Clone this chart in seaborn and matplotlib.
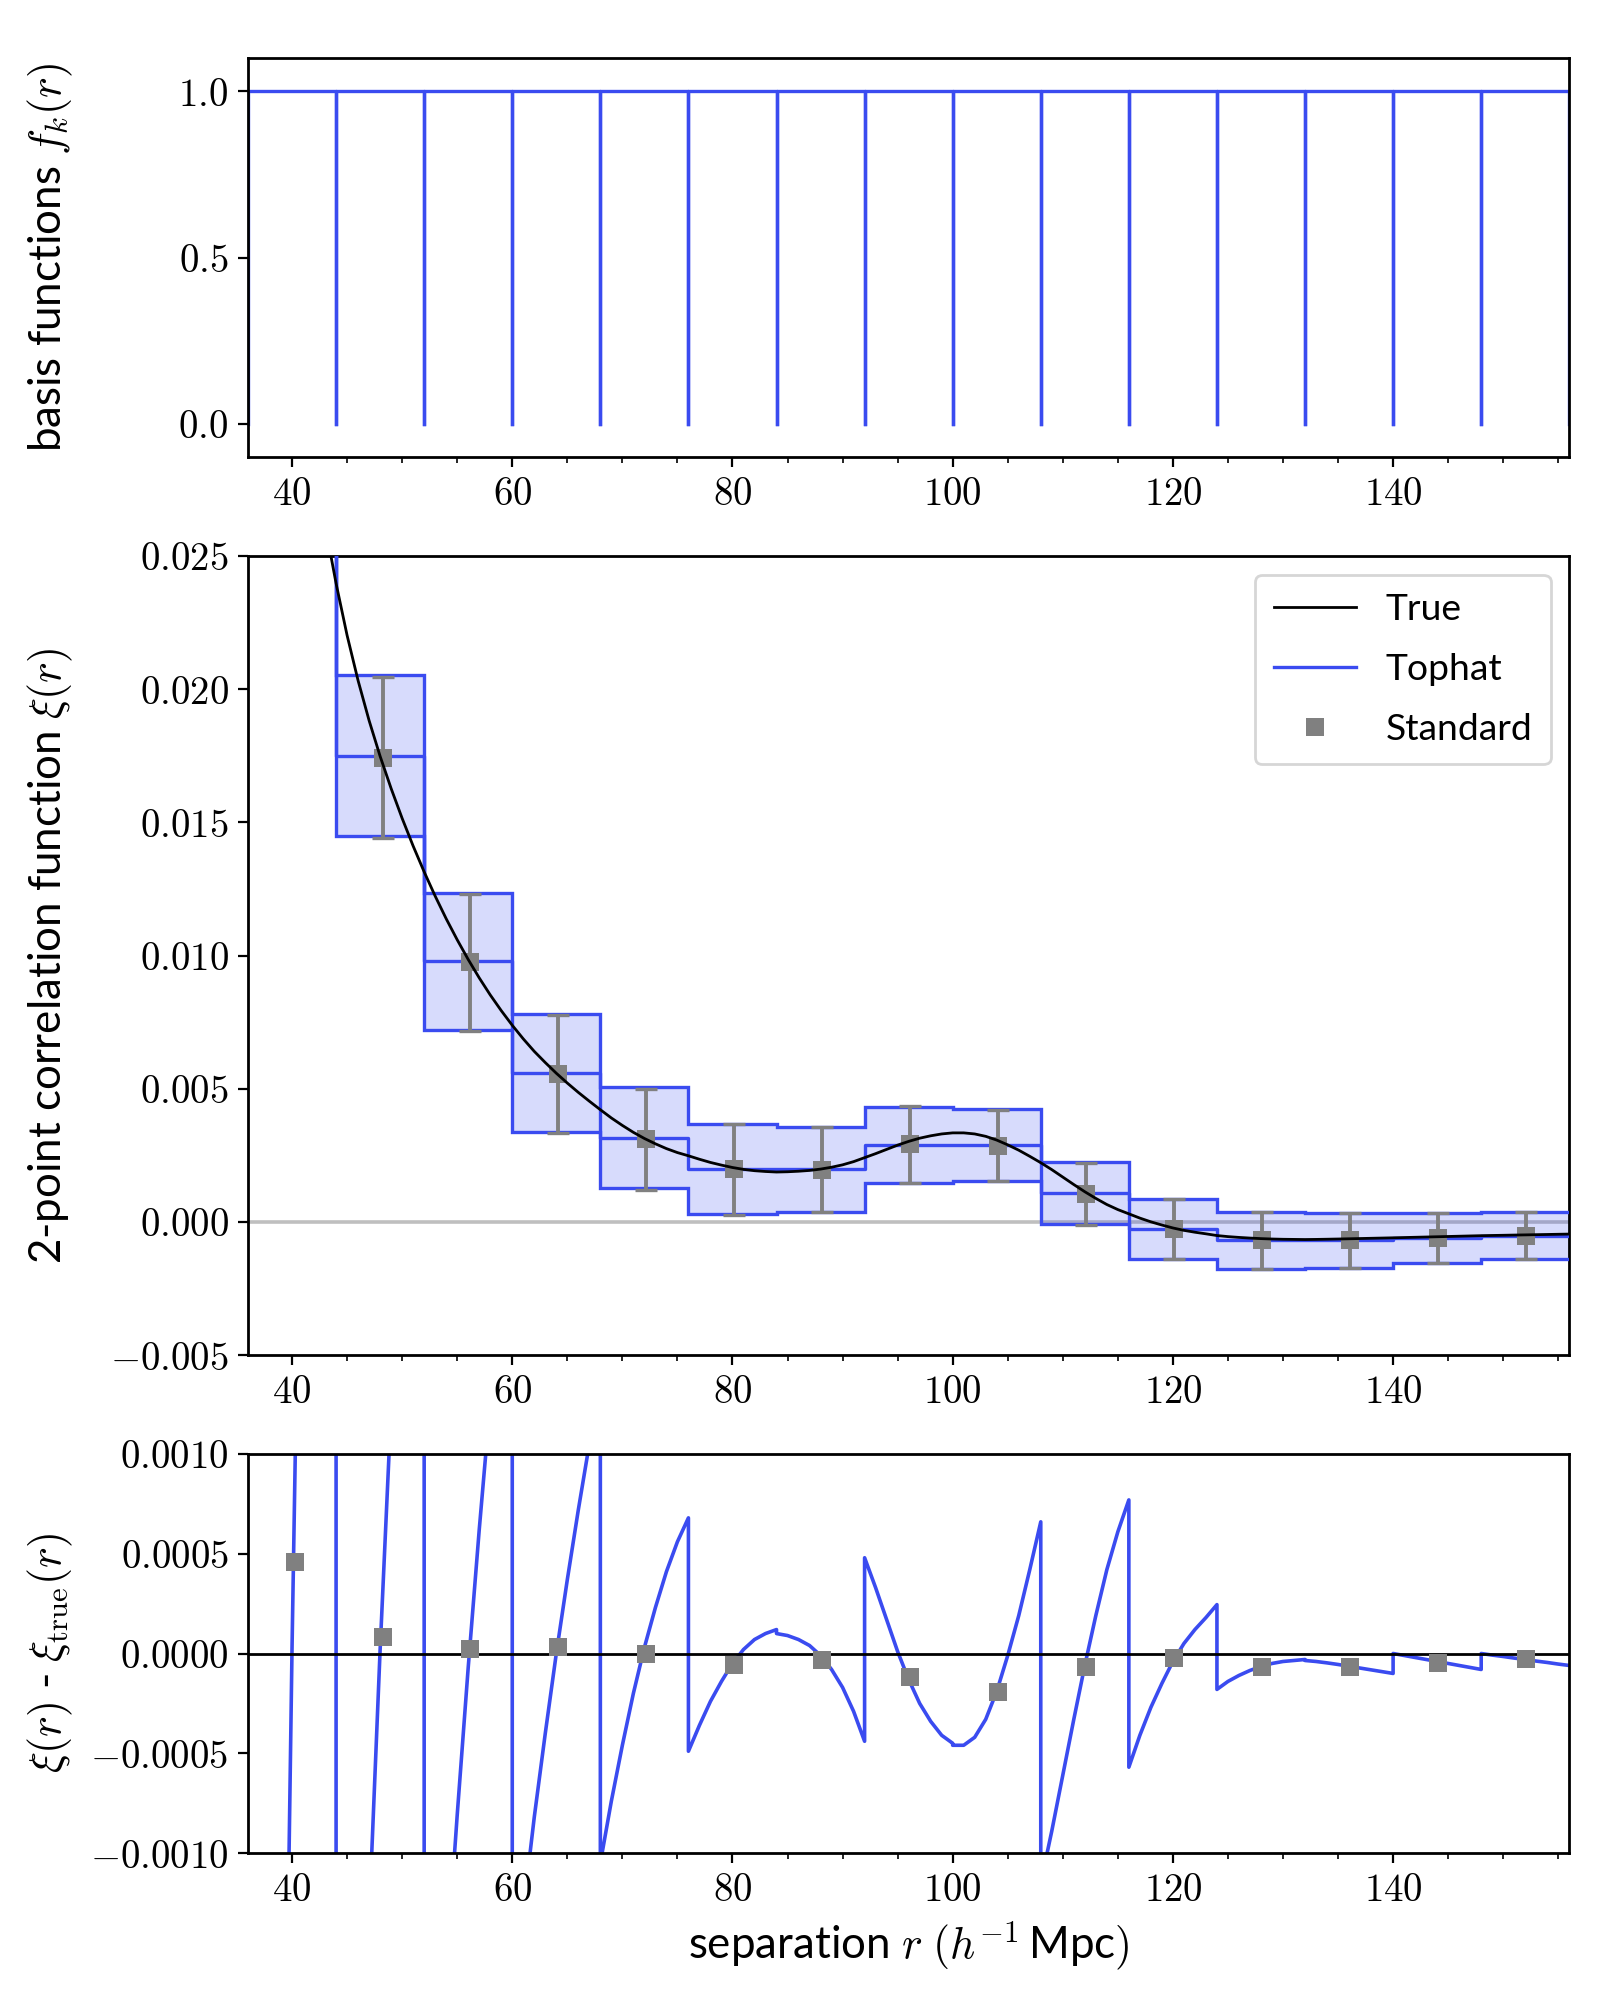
import numpy as np
import matplotlib
matplotlib.use("Agg")
import matplotlib.pyplot as plt
from matplotlib.ticker import FormatStrFormatter, MultipleLocator
import seaborn as sns

#% data
# tophat bin edges, h^-1 Mpc
bin_edges = [36, 44, 52, 60, 68, 76, 84, 92, 100, 108, 116, 124, 132, 140, 148, 156]

# tophat estimate per bin and 1-sigma error
tophat_xi = [0.0349, 0.0175, 0.00978, 0.00558, 0.00316, 0.00199, 0.00197, 0.00289,
             0.00288, 0.00107, -0.00027, -0.000695, -0.0007, -0.0006, -0.00052]
tophat_err = [0.0035, 0.00303, 0.00257, 0.00222, 0.00189, 0.0017, 0.0016, 0.00144,
              0.00134, 0.00117, 0.00112, 0.00107, 0.00102, 0.00095, 0.00089]

# standard estimator: positions, values, residual to the true curve
std_r = [40.27, 48.22, 56.19, 64.17, 72.15, 80.13, 88.12, 96.11,
         104.10, 112.10, 120.09, 128.08, 136.08, 144.07, 152.07]
std_xi = [0.0344, 0.01743, 0.00974, 0.00555, 0.0031, 0.00197, 0.00196, 0.00291,
          0.00286, 0.00104, -0.00026, -0.0007, -0.0007, -0.00061, -0.00052]
std_resid = [0.00046, 0.000085, 0.000023, 0.000033, 0.0, -0.000057, -0.000032, -0.000117,
             -0.000192, -0.00007, -0.000022, -0.000067, -0.000067, -0.000047, -0.00003]

# true correlation function, sampled every 1 h^-1 Mpc from 36 to 156
r_true = list(range(36, 157))
xi_true = [
    0.05347, 0.04787, 0.04297, 0.03867, 0.03487, 0.03157, 0.02867, 0.02617,   # 36-43
    0.02397, 0.02202, 0.02032, 0.01882, 0.01748, 0.01627, 0.01515, 0.01411,   # 44-51
    0.01314, 0.01223, 0.01138, 0.01059, 0.00985, 0.00916, 0.00852, 0.00793,   # 52-59
    0.00738, 0.00687, 0.00640, 0.00598, 0.00558, 0.00521, 0.00486, 0.00453,   # 60-67
    0.00421, 0.00390, 0.00362, 0.00336, 0.00313, 0.00293, 0.00275, 0.00260,   # 68-75
    0.00248, 0.00235, 0.00223, 0.00213, 0.00204, 0.00197, 0.00192, 0.00189,   # 76-83
    0.00187, 0.00188, 0.00190, 0.00193, 0.00198, 0.00205, 0.00214, 0.00226,   # 84-91
    0.00241, 0.00256, 0.00272, 0.00288, 0.00302, 0.00314, 0.00323, 0.00330,   # 92-99
    0.00334, 0.00334, 0.00330, 0.00321, 0.00307, 0.00289, 0.00269, 0.00246,   # 100-107
    0.00222, 0.00196, 0.00168, 0.00140, 0.00113, 0.00088, 0.00065, 0.00046,   # 108-115
    0.00030, 0.00014, 0.00000, -0.00012, -0.00023, -0.00032, -0.00039, -0.00045,  # 116-123
    -0.000515, -0.000555, -0.000585, -0.00061, -0.00063, -0.000645, -0.000655, -0.00066,  # 124-131
    -0.000665, -0.00066, -0.000653, -0.000645, -0.000636, -0.000627, -0.000618, -0.000609,  # 132-139
    -0.0006, -0.00059, -0.00058, -0.00057, -0.00056, -0.00055, -0.00054, -0.00053,  # 140-147
    -0.00052, -0.000512, -0.000505, -0.000497, -0.00049, -0.000482, -0.000475, -0.000467,  # 148-155
    -0.00046,  # 156
]

blue = "#3a4bf0"
grey = "#808080"
LABEL_FS = 15.8

sns.set_theme(style="ticks", rc={
    "axes.edgecolor": "black", "axes.linewidth": 1.0,
    "xtick.color": "black", "ytick.color": "black",
    "text.color": "black", "axes.labelcolor": "black",
    "xtick.major.size": 3.5, "ytick.major.size": 3.5, "xtick.minor.size": 2,
    "xtick.major.width": 0.8, "ytick.major.width": 0.8, "xtick.minor.width": 0.6,
    "font.size": 14, "axes.labelsize": LABEL_FS, "xtick.labelsize": 14,
    "ytick.labelsize": 14, "legend.fontsize": 13.4,
    "lines.solid_capstyle": "projecting",
})
plt.rcParams["font.family"] = ["Lato", "DejaVu Sans"]
plt.rcParams["mathtext.fontset"] = "cm"

edges = np.array(bin_edges, dtype=float)
T = np.array(tophat_xi)
E = np.array(tophat_err)
r = np.array(r_true, dtype=float)
xi = np.array(xi_true)

fig = plt.figure(figsize=(8, 10), dpi=200)
ax1 = fig.add_axes([0.155, 0.7715, 0.8258, 0.1995])
ax2 = fig.add_axes([0.155, 0.3225, 0.8258, 0.3995])
ax3 = fig.add_axes([0.155, 0.0735, 0.8258, 0.1995])

#% top: tophat basis functions
for lo, hi in zip(edges[:-1], edges[1:]):
    sns.lineplot(x=[lo, lo, hi, hi], y=[0, 1, 1, 0], sort=False, estimator=None,
                 color=blue, lw=1.2, ax=ax1, legend=False)

#% middle: correlation function
ax2.axhline(0, color="#bfbfbf", lw=1.3, zorder=1)
ax2.stairs(T + E, edges, baseline=T - E, fill=True, color=blue, alpha=0.2, lw=0, zorder=2)
ax2.stairs(T + E, edges, baseline=None, color=blue, lw=1.2, zorder=3)
ax2.stairs(T - E, edges, baseline=None, color=blue, lw=1.2, zorder=3)
step_x = np.repeat(edges, 2)[1:-1]
step_y = np.repeat(T, 2)
sns.lineplot(x=step_x, y=step_y, sort=False, estimator=None, color=blue, lw=1.2,
             label="Tophat", ax=ax2, zorder=3)
sns.lineplot(x=r, y=xi, sort=False, estimator=None, color="black", lw=1.0,
             label="True", ax=ax2, zorder=5)
ax2.errorbar(std_r, std_xi, yerr=E, fmt="none", ecolor=grey, elinewidth=1.4,
             capsize=4, capthick=1.2, zorder=4)
ax2.plot(std_r, std_xi, "s", color=grey, ms=6.6, mew=0, label="Standard", zorder=4)

h, l = ax2.get_legend_handles_labels()
lookup = dict(zip(l, h))
order = ["True", "Tophat", "Standard"]
ax2.legend([lookup[k] for k in order], order, loc="upper right", frameon=True,
           fancybox=True, framealpha=0.8, edgecolor="0.8", fontsize=13.4,
           labelspacing=0.72, handlelength=2.2, borderpad=0.5)

#% bottom: residuals
res_x, res_y = [], []
for k, (lo, hi) in enumerate(zip(edges[:-1], edges[1:])):
    sel = (r >= lo) & (r <= hi)
    res_x.extend(r[sel])
    res_y.extend(T[k] - xi[sel])
ax3.axhline(0, color="black", lw=1.0, zorder=3)
sns.lineplot(x=res_x, y=res_y, sort=False, estimator=None, color=blue, lw=1.3,
             ax=ax3, legend=False, zorder=2)
ax3.plot(std_r, std_resid, "s", color=grey, ms=6.6, mew=0, zorder=4)

#% axes
for ax in (ax1, ax2, ax3):
    ax.set_xlim(36, 156)
    ax.xaxis.set_major_locator(MultipleLocator(20))
    ax.xaxis.set_minor_locator(MultipleLocator(5))
    ax.xaxis.set_major_formatter(FormatStrFormatter("$%d$"))
    ax.set_xlabel("")

ax1.set_ylim(-0.1, 1.1)
ax1.set_yticks([0.0, 0.5, 1.0])
ax1.yaxis.set_major_formatter(FormatStrFormatter("$%.1f$"))
ax2.set_ylim(-0.005, 0.025)
ax2.set_yticks([-0.005, 0.0, 0.005, 0.01, 0.015, 0.02, 0.025])
ax2.yaxis.set_major_formatter(FormatStrFormatter("$%.3f$"))
ax3.set_ylim(-0.001, 0.001)
ax3.set_yticks([-0.001, -0.0005, 0.0, 0.0005, 0.001])
ax3.yaxis.set_major_formatter(FormatStrFormatter("$%.4f$"))

ax1.set_ylabel(r"basis functions $f_k(r)$", fontsize=LABEL_FS)
ax2.set_ylabel(r"2-point correlation function $\xi(r)$", fontsize=LABEL_FS)
ax3.set_ylabel(r"$\xi(r)$ - $\xi_{\rm true}(r)$", fontsize=LABEL_FS)
ax3.set_xlabel(r"separation $r$ $(h^{-1}\,$Mpc$)$", fontsize=LABEL_FS)
for ax in (ax1, ax2, ax3):
    ax.yaxis.set_label_coords(-0.131, 0.5)

fig.savefig("out.png", dpi=200)
